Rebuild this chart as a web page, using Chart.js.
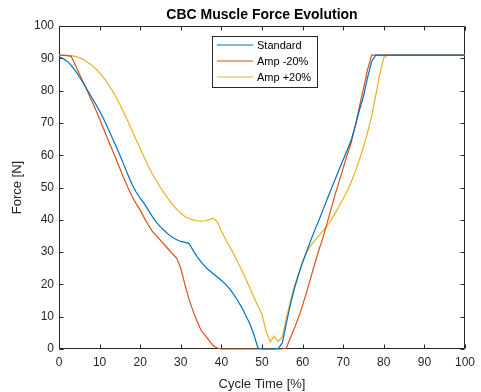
<!DOCTYPE html>
<html>
<head>
<meta charset="utf-8">
<script src="https://cdn.jsdelivr.net/npm/chart.js@4.4.0/dist/chart.umd.min.js"></script>
<style>
  html, body { margin: 0; padding: 0; background: #fff; }
  canvas { display: block; }
</style>
</head>
<body>
<canvas id="graficoForca" width="481" height="392"></canvas>
<script>
// tempo do ciclo [%]
const ciclo = [
  0, 1, 2, 3, 4, 5, 6, 7, 8, 9, 10, 11, 12, 13, 14, 15, 16, 17, 18, 19, 20,
  21, 22, 23, 24, 25, 26, 27, 28, 29, 30, 31, 32, 33, 34, 35, 36, 37, 38, 39, 40,
  41, 42, 43, 44, 45, 46, 47, 48, 49, 50, 51, 52, 53, 54, 55, 56, 57, 58, 59, 60,
  61, 62, 63, 64, 65, 66, 67, 68, 69, 70, 71, 72, 73, 74, 75, 76, 77, 78, 79, 80,
  81, 82, 83, 84, 85, 86, 87, 88, 89, 90, 91, 92, 93, 94, 95, 96, 97, 98, 99, 100,
];

// forca [N]
const standard = [
  90.5, 89.9, 89.1, 87.8, 86.2, 84.3, 82.3, 80.2, 78.0, 75.9, 73.7,
  71.2, 68.5, 65.7, 62.9, 60.0, 57.0, 53.9, 50.9, 48.6, 46.7,
  45.0, 43.0, 41.0, 39.2, 37.8, 36.6, 35.4, 34.5, 33.8, 33.3,
  33.0, 32.7, 30.6, 28.6, 27.0, 25.5, 24.3, 23.3, 22.3, 21.2,
  20.1, 18.7, 17.0, 15.0, 12.9, 10.4, 7.8, 4.5, 0.3, 0,
  0, 0, 0, 0.2, 1.8, 8.0, 13.8, 18.8, 23.0, 26.8,
  30.2, 33.6, 36.8, 39.8, 43.0, 46.2, 49.4, 52.5, 55.6, 58.6,
  61.6, 64.8, 69.2, 74.0, 78.2, 84.0, 89.0, 91.0, 91.0, 91.0,
  91.0, 91.0, 91.0, 91.0, 91.0, 91.0, 91.0, 91.0, 91.0, 91.0,
  91.0, 91.0, 91.0, 91.0, 91.0, 91.0, 91.0, 91.0, 91.0, 91.0,
];

const ampMenos20 = [
  91.0, 90.9, 90.8, 90.6, 88.0, 85.2, 82.5, 79.8, 77.0, 74.2, 71.2,
  68.1, 65.0, 62.0, 59.0, 55.9, 52.8, 49.9, 47.2, 45.0, 43.0,
  40.6, 38.4, 36.4, 35.0, 33.6, 32.2, 30.8, 29.4, 28.1, 25.0,
  20.0, 15.5, 11.8, 8.6, 5.8, 4.2, 2.6, 1.0, 0.3, 0,
  0, 0, 0, 0, 0, 0, 0, 0, 0, 0,
  0, 0, 0, 0, 0, 0.3, 3.5, 6.5, 9.8, 13.5,
  17.6, 22.0, 26.4, 30.6, 34.4, 38.8, 43.3, 47.8, 51.9, 56.0,
  60.2, 64.0, 69.2, 75.0, 80.6, 86.5, 91.0, 91.0, 91.0, 91.0,
  91.0, 91.0, 91.0, 91.0, 91.0, 91.0, 91.0, 91.0, 91.0, 91.0,
  91.0, 91.0, 91.0, 91.0, 91.0, 91.0, 91.0, 91.0, 91.0, 91.0,
];

const ampMais20 = [
  91.0, 91.0, 90.9, 90.8, 90.6, 90.2, 89.6, 88.8, 87.9, 86.8, 85.5,
  84.0, 82.2, 80.3, 78.1, 75.7, 73.1, 70.4, 67.6, 64.8, 62.0,
  59.3, 56.6, 54.2, 52.0, 50.0, 48.1, 46.3, 44.7, 43.2, 42.0,
  41.0, 40.4, 40.0, 39.7, 39.6, 39.7, 40.1, 40.5, 39.4, 36.5,
  34.0, 31.8, 29.5, 27.0, 24.4, 21.7, 19.0, 16.0, 13.3, 10.8,
  5.5, 2.2, 4.0, 2.3, 3.8, 9.5, 14.8, 19.5, 23.3, 27.0,
  30.0, 32.0, 33.6, 35.1, 36.5, 38.0, 39.9, 42.0, 44.2, 46.5,
  49.0, 51.8, 55.0, 58.6, 62.6, 67.0, 72.0, 78.3, 85.0, 90.2,
  91.0, 91.0, 91.0, 91.0, 91.0, 91.0, 91.0, 91.0, 91.0, 91.0,
  91.0, 91.0, 91.0, 91.0, 91.0, 91.0, 91.0, 91.0, 91.0, 91.0,
];

const nomes = ["Standard", "Amp -20%", "Amp +20%"];
const cores = ["#0072BD", "#D95319", "#EDB120"];
const series = [standard, ampMenos20, ampMais20];

const fonte = "'Liberation Sans', Arial, Helvetica, sans-serif";
const corEixo = "#262626";

function pontos(valores) {
  return ciclo.map((x, i) => ({ x: x, y: valores[i] }));
}

// caixa com ticks para dentro, estilo matlab
const eixosMatlab = {
  id: "eixosMatlab",
  beforeDatasetsDraw(chart) {
    const { ctx, chartArea: a, scales } = chart;
    const l = Math.round(a.left) + 0.5;
    const r = Math.round(a.right) - 0.5;
    const t = Math.round(a.top) + 0.5;
    const b = Math.round(a.bottom) - 0.5;
    ctx.save();
    ctx.strokeStyle = corEixo;
    ctx.lineWidth = 1;
    ctx.beginPath();
    ctx.rect(l, t, r - l, b - t);
    scales.x.ticks.forEach((tk) => {
      const x = Math.round(scales.x.getPixelForValue(tk.value)) + 0.5;
      ctx.moveTo(x, b);
      ctx.lineTo(x, b - 4);
      ctx.moveTo(x, t);
      ctx.lineTo(x, t + 4);
    });
    scales.y.ticks.forEach((tk) => {
      const y = Math.round(scales.y.getPixelForValue(tk.value)) + 0.5;
      ctx.moveTo(l, y);
      ctx.lineTo(l + 4, y);
      ctx.moveTo(r, y);
      ctx.lineTo(r - 4, y);
    });
    ctx.stroke();

    ctx.fillStyle = "#000";
    ctx.font = "bold 14px " + fonte;
    ctx.textAlign = "center";
    ctx.textBaseline = "middle";
    ctx.fillText("CBC Muscle Force Evolution", (a.left + a.right) / 2, 15);
    ctx.restore();
  },
  afterDraw(chart) {
    const { ctx } = chart;
    const x0 = 212.5, y0 = 36.5, w = 105, h = 51;
    ctx.save();
    ctx.fillStyle = "#fff";
    ctx.fillRect(x0, y0, w, h);
    ctx.strokeStyle = corEixo;
    ctx.lineWidth = 1;
    ctx.strokeRect(x0, y0, w, h);
    ctx.font = "11px " + fonte;
    ctx.textAlign = "left";
    ctx.textBaseline = "middle";
    nomes.forEach((nome, i) => {
      const y = 45 + i * 16;
      ctx.strokeStyle = cores[i];
      ctx.lineWidth = 1.2;
      ctx.beginPath();
      ctx.moveTo(217, y);
      ctx.lineTo(253, y);
      ctx.stroke();
      ctx.fillStyle = "#000";
      ctx.fillText(nome, 257, y + 1);
    });
    ctx.restore();
  },
};

const ctx = document.getElementById("graficoForca").getContext("2d");

const grafico = new Chart(ctx, {
  type: "line",
  data: {
    datasets: series.map((valores, i) => ({
      label: nomes[i],
      data: pontos(valores),
      borderColor: cores[i],
      backgroundColor: cores[i],
      borderWidth: 1.2,
      pointRadius: 0,
      tension: 0,
      clip: false,
    })),
  },
  options: {
    responsive: false,
    animation: false,
    devicePixelRatio: 1,
    layout: { padding: { top: 26, right: 12, bottom: 0, left: 0 } },
    plugins: {
      legend: { display: false },
      tooltip: { enabled: false },
    },
    scales: {
      x: {
        type: "linear",
        min: 0,
        max: 100,
        ticks: {
          stepSize: 10,
          color: corEixo,
          font: { family: fonte, size: 12 },
          padding: 6,
          maxRotation: 0,
        },
        grid: { display: false, drawTicks: false },
        border: { display: false },
        title: {
          display: true,
          text: "Cycle Time [%]",
          color: corEixo,
          font: { family: fonte, size: 13 },
          padding: { top: 3, bottom: 0 },
        },
        afterFit(scale) {
          scale.height = 43;
        },
      },
      y: {
        min: 0,
        max: 100,
        ticks: {
          stepSize: 10,
          color: corEixo,
          font: { family: fonte, size: 12 },
          padding: 5,
        },
        grid: { display: false, drawTicks: false },
        border: { display: false },
        title: {
          display: true,
          text: "Force [N]",
          color: corEixo,
          font: { family: fonte, size: 13 },
          padding: { top: 10, bottom: 0 },
        },
        afterFit(scale) {
          scale.width = 59;
        },
      },
    },
  },
  plugins: [eixosMatlab],
});
</script>
</body>
</html>
